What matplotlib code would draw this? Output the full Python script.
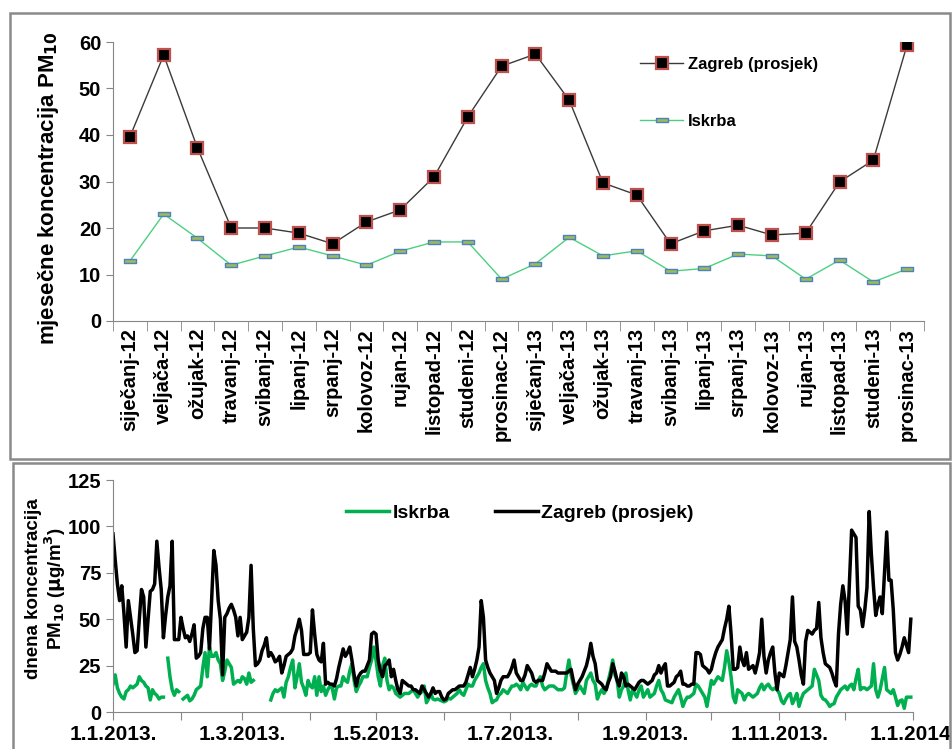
import numpy as np
import matplotlib
matplotlib.use("Agg")
import matplotlib.pyplot as plt
from matplotlib.patches import Rectangle
from matplotlib.path import Path

plt.rcParams['font.family'] = ['Liberation Sans', 'DejaVu Sans']
plt.rcParams['font.weight'] = 'bold'

# ---------------- monthly data (top panel) ----------------
months = ['siječanj-12', 'veljača-12', 'ožujak-12', 'travanj-12', 'svibanj-12', 'lipanj-12',
          'srpanj-12', 'kolovoz-12', 'rujan-12', 'listopad-12', 'studeni-12', 'prosinac-12',
          'siječanj-13', 'veljača-13', 'ožujak-13', 'travanj-13', 'svibanj-13', 'lipanj-13',
          'srpanj-13', 'kolovoz-13', 'rujan-13', 'listopad-13', 'studeni-13', 'prosinac-13']
zagreb_monthly = [39.6, 57.2, 37.2, 20.0, 20.0, 18.9, 16.6, 21.3, 23.9, 31.0, 43.9, 54.8,
                  57.4, 47.5, 29.7, 27.1, 16.6, 19.4, 20.6, 18.5, 18.9, 29.9, 34.6, 59.4]
iskrba_monthly = [12.9, 23.0, 17.8, 12.0, 14.0, 15.9, 14.0, 12.0, 15.0, 17.0, 17.0, 9.0,
                  12.3, 18.0, 14.0, 15.1, 10.7, 11.3, 14.4, 14.0, 9.0, 13.1, 8.4, 11.2]

# ---------------- daily data 2013 (bottom panel) ----------------
zagreb_daily = [
    # Jan
    96, 82, 69, 60, 68, 53, 35, 60, 51, 42, 32, 33, 50, 66, 62, 35, 50, 65, 66, 69,
    92, 78, 66, 40, 52, 62, 68, 92, 39, 39, 39,
    # Feb
    51, 45, 40, 41, 38, 42, 47, 29, 30, 32, 45, 51, 51, 34, 60, 87, 79, 60, 50, 20,
    51, 53, 56, 58, 55, 51, 41, 51,
    # Mar
    39, 41, 43, 51, 79, 45, 25, 26, 28, 33, 36, 40, 30, 32, 30, 27, 28, 30, 21, 25,
    30, 31, 32, 34, 41, 45, 50, 44, 31, 31, 31,
    # Apr
    32, 55, 42, 31, 28, 27, 37, 15, 16, 15, 15, 14, 18, 24, 29, 34, 30, 32, 35, 28,
    20, 14, 19, 21, 22, 22, 25, 28, 42, 43,
    # May
    42, 28, 22, 19, 25, 26, 28, 19, 23, 17, 12, 10, 17, 16, 15, 14, 14, 12, 12, 11,
    10, 14, 12, 10, 8, 10, 13, 10, 11, 11, 8,
    # Jun
    6.5, 7, 10, 11, 12, 12, 13, 14, 14, 14, 16, 20, 24, 19, 23, 28, 35, 60, 51, 28,
    24, 21, 19, 17, 10, 13, 17, 19, 19, 19,
    # Jul
    21, 24, 28, 21, 19, 17, 17, 20, 25, 23, 21, 17, 16, 17, 17, 17, 21, 26, 24, 22,
    22, 22, 21, 21, 21, 21, 21, 22, 23, 17, 12,
    # Aug
    15, 17, 19, 22, 25, 30, 37, 30, 26, 17, 16, 15, 13, 12, 16, 19, 26, 22, 17, 14,
    21, 19, 14, 15, 14, 13, 12, 14, 16, 17, 17,
    # Sep
    16, 15, 16, 17, 20, 21, 25, 21, 24, 26, 14, 14, 15, 16, 19, 20, 22, 15, 15, 14,
    14, 15, 15, 32, 32, 31, 25, 24, 23, 21,
    # Oct
    23, 28, 32, 35, 37, 39, 45, 50, 57, 42, 23, 23, 24, 35, 28, 25, 32, 23, 24, 25,
    21, 26, 32, 50, 30, 21, 28, 32, 35, 21, 12,
    # Nov
    21, 20, 19, 25, 32, 39, 62, 38, 35, 28, 20, 15, 38, 44, 43, 42, 44, 45, 59, 40,
    32, 26, 25, 24, 21, 17, 14, 42, 58, 68,
    # Dec
    60, 42, 70, 98, 96, 94, 57, 55, 46, 55, 67, 108, 85, 67, 52, 58, 62, 53, 75, 97,
    71, 71, 55, 32, 28, 31, 35, 40, 36, 32, 50,
]
nan = float('nan')
iskrba_daily = [
    # Jan
    15, 20, 13, 10, 8, 7, 11, 12, 14, 13, 14, 15, 19, 17, 16, 14, 13, 6.5, 12, 10,
    9, 7, 8, 8, nan, 29, 19, 12, 9, 12, 11,
    # Feb
    nan, 7, 8, 9, 6, 7, 9, 12, 13, 14, 24, 32, 19, 35, 30, 30, 32, 28, 26, 17,
    22, 28, 26, 24, 15, 16, 17, 16,
    # Mar
    19, 18, 15, 21, 16, 17, nan, nan, nan, nan, nan, nan, nan, 6.5, 10, 12, 11, 12, 13, 8,
    16, 19, 24, 28, 13, 19, 26, 16, 13, 9, 17,
    # Apr
    14, 13, 19, 9, 19, 11, 14, 9, 12, 14, 13, 7, 13, 14, 14, 19, 17, 16, 22, 26,
    17, 11, 14, 16, 19, 19, 19, 24, 28, 35,
    # May
    28, 19, 14, 25, 29, 17, 12, 14, 13, 10, 9, 8, 9, 10, 10, 10, 11, 12, 10, 8,
    10, 11, 14, 5, 7, 10, 7, 6.5, 7, 6.5, 6,
    # Jun
    5.5, 6, 7.5, 7, 8, 9, 10, 12, 10, 9, 12, 15, 14, 14, 17, 19, 21, 24, 26, 17,
    13, 10, 5, 6, 6.5, 9, 10, 12, 11, 10,
    # Jul
    12, 14, 14, 15, 14, 12, 16, 14, 12, 14, 15, 14, 14, 17, 19, 14, 12, 13, 14, 14,
    14, 13, 12, 12, 12, 13, 21, 28, 20, 15, 10,
    # Aug
    12, 14, 12, 10, 17, 19, 21, 17, 15, 7, 10, 12, 10, 12, 17, 22, 28, 20, 17, 8,
    12, 14, 21, 12, 6.5, 12, 10, 8, 12, 14, 8,
    # Sep
    10, 12, 8, 9, 10, 14, 17, 12, 10, 6.5, 6, 5.5, 5, 8, 10, 12, 8, 3, 6, 8,
    8, 9, 10, 15, 14, 12, 10, 8, 3, 10,
    # Oct
    17, 15, 17, 19, 18, 17, 24, 33, 27, 19, 8, 5, 12, 11, 10, 6.5, 9, 10, 9, 8,
    9, 10, 13, 15, 12, 14, 15, 13, 12, 13, 12,
    # Nov
    10, 6, 4.5, 7, 9, 10, 4.5, 7, 10, 3, 7, 10, 11, 12, 13, 14, 23, 20, 17, 9,
    7, 6.5, 5, 3, 4, 4.5, 8, 10, 12, 13,
    # Dec
    14, 12, 14, 15, 12, 18, 23, 12, 13, 13, 12, 13, 14, 26, 12, 8, 12, 18, 24, 12,
    11, 10, 12, 8, 3.5, 6, 6.5, 2, 8, 8, 8,
]

W, H = 953, 749
fig = plt.figure(figsize=(W / 100, H / 100), dpi=100)

def fx(px):
    return px / W

def fy(py):
    return 1 - py / H

# panel frames
fig.patches.append(Rectangle((fx(10), fy(459)), fx(950) - fx(10), fy(13) - fy(459),
                             transform=fig.transFigure, fill=False, ec='#8a8a8a', lw=1.8))
fig.patches.append(Rectangle((fx(13), fy(800)), fx(950) - fx(13), fy(463) - fy(800),
                             transform=fig.transFigure, fill=False, ec='#8a8a8a', lw=1.8,
                             clip_on=False))

spine_c = '#868686'

# ---------------- top panel ----------------
ax1 = fig.add_axes([fx(113), fy(321), fx(924) - fx(113), fy(42) - fy(321)])
x = np.arange(len(months))
ax1.plot(x, zagreb_monthly, color='#3a3a3a', lw=1.0, marker='s', markersize=8.5,
         markerfacecolor='black', markeredgecolor='#C0504D', markeredgewidth=1.6,
         label='Zagreb (prosjek)')
rect = Path([(-1, -0.3), (1, -0.3), (1, 0.3), (-1, 0.3), (-1, -0.3)],
            [Path.MOVETO, Path.LINETO, Path.LINETO, Path.LINETO, Path.CLOSEPOLY])
ax1.plot(x, iskrba_monthly, color='#4CD080', lw=1.0, marker=rect, markersize=9,
         markerfacecolor='#9BBB59', markeredgecolor='#4F81BD', markeredgewidth=1.0,
         label='Iskrba')
ax1.set_xlim(-0.5, len(months) - 0.5)
ax1.set_ylim(0, 60)
ax1.set_yticks(range(0, 61, 10))
ax1.set_xticks(x)
ax1.set_xticklabels(months, rotation=90, fontsize=14.5, fontweight='bold')
ax1.set_xticks(np.arange(-0.5, len(months), 1), minor=True)
ax1.tick_params(axis='x', which='major', length=0, pad=5)
ax1.tick_params(axis='x', which='minor', length=7, color=spine_c, direction='out')
ax1.tick_params(axis='y', length=5, color=spine_c, labelsize=14.5, direction='out')
for lab in ax1.get_yticklabels():
    lab.set_fontweight('bold')
for s in ['top', 'right']:
    ax1.spines[s].set_visible(False)
for s in ['left', 'bottom']:
    ax1.spines[s].set_color(spine_c)
ax1.set_ylabel('mjesečne koncentracija PM$_{\\mathbf{10}}$', fontsize=16, fontweight='bold')
ax1.yaxis.set_label_coords(-0.064, 0.477)
leg1 = ax1.legend(loc='upper left', bbox_to_anchor=(fx(625), fy(42)),
                  bbox_transform=fig.transFigure, frameon=False, fontsize=12,
                  handlelength=2.6, labelspacing=2.5, handletextpad=0.3)
for t in leg1.get_texts():
    t.set_fontweight('bold')

# ---------------- bottom panel ----------------
ax2 = fig.add_axes([fx(113), fy(712), fx(913) - fx(113), fy(480) - fy(712)])
dates = np.arange('2013-01-01', '2014-01-01', dtype='datetime64[D]')
ax2.plot(dates, iskrba_daily, color='#00B050', lw=2.5, label='Iskrba')
ax2.plot(dates, zagreb_daily, color='black', lw=2.5, label='Zagreb (prosjek)')
ax2.set_ylim(0, 125)
ax2.set_yticks(range(0, 126, 25))
ax2.set_xlim(np.datetime64('2013-01-01'), np.datetime64('2014-01-01'))
month_starts = np.arange('2013-01', '2014-02', dtype='datetime64[M]').astype('datetime64[D]')
ax2.set_xticks(month_starts)
labels = []
for i, d in enumerate(month_starts):
    if i % 2 == 0:
        y, m, _ = str(d).split('-')
        labels.append(f'1.{int(m)}.{y}.')
    else:
        labels.append('')
ax2.set_xticklabels(labels, fontsize=15, fontweight='bold')
ax2.tick_params(axis='x', length=6, color=spine_c, direction='out', pad=3)
ax2.tick_params(axis='y', length=5, color=spine_c, labelsize=14.5, direction='out')
for lab in ax2.get_yticklabels():
    lab.set_fontweight('bold')
for s in ['top', 'right']:
    ax2.spines[s].set_visible(False)
for s in ['left', 'bottom']:
    ax2.spines[s].set_color(spine_c)
ax2.set_ylabel('dnena koncentracija\nPM$_{\\mathbf{10}}$ ($\\mathbf{\\mu}$g/m$^{\\mathbf{3}}$)',
               fontsize=13.5, fontweight='bold', linespacing=1.05)
ax2.yaxis.set_label_coords(-0.056, 0.53)
leg2 = ax2.legend(loc='center', bbox_to_anchor=(fx(520), fy(513)),
                  bbox_transform=fig.transFigure, frameon=False, fontsize=14, ncol=2,
                  handlelength=2.2, columnspacing=2.3, handletextpad=0.2)
for t in leg2.get_texts():
    t.set_fontweight('bold')

fig.savefig('out.png', dpi=100)
